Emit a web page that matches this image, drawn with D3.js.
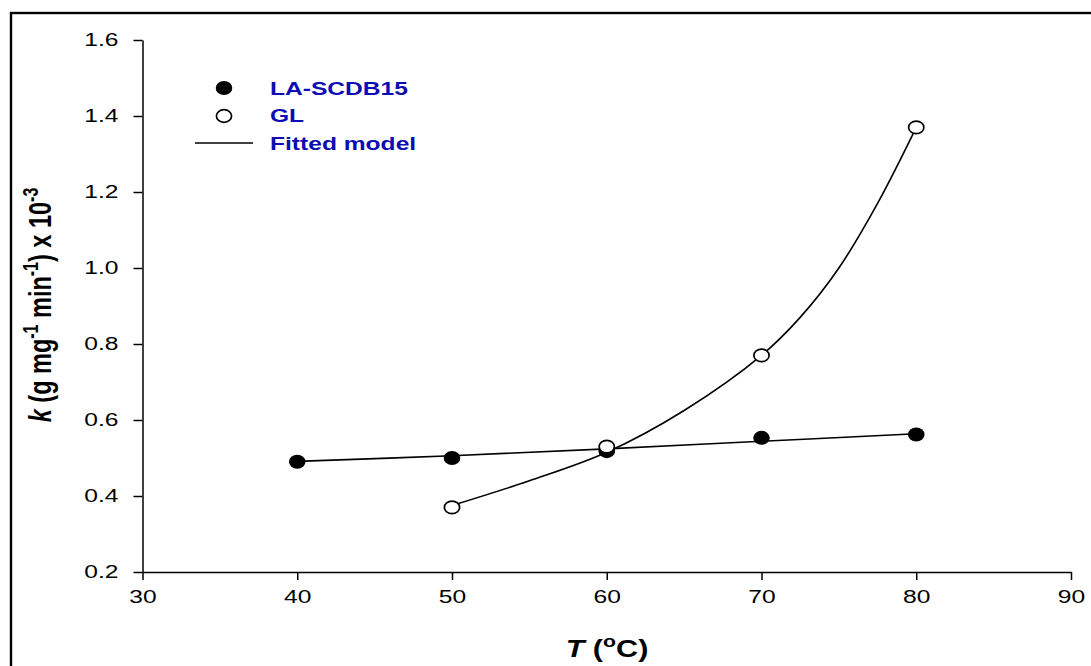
<!DOCTYPE html>
<html>
<head>
<meta charset="utf-8">
<script src="https://cdn.jsdelivr.net/npm/d3@7"></script>
<style>
  html, body { margin: 0; padding: 0; background: #fff; }
  svg { display: block; }
  text { font-family: "Liberation Sans", Arial, sans-serif; }
</style>
</head>
<body>
<svg id="chart" width="1091" height="666"></svg>
<script>
// Rate constant k vs temperature for two adsorbents
const temps = [40, 50, 60, 70, 80];
const laValues = [0.49, 0.50, 0.518, 0.553, 0.562];
const glTemps = [50, 60, 70, 80];
const glValues = [0.37, 0.53, 0.77, 1.37];

// Fitted model curves
const laFitTemps = [40, 50, 60, 70, 80];
const laFitValues = [0.491, 0.506, 0.524, 0.544, 0.564];
const glFitTemps = [50, 55, 60, 65, 70, 72.5, 75, 77.5, 80];
const glFitValues = [0.375, 0.44, 0.515, 0.625, 0.77, 0.87, 1.0, 1.17, 1.37];

const xTicks = [30, 40, 50, 60, 70, 80, 90];
const yTicks = [0.2, 0.4, 0.6, 0.8, 1.0, 1.2, 1.4, 1.6];

const seriesNames = ["LA-SCDB15", "GL", "Fitted model"];

const svg = d3.select("#chart");
const SX = 1.33; // horizontal glyph stretch

const x = d3.scaleLinear().domain([30, 90]).range([142.5, 1071]);
const y = d3.scaleLinear().domain([0.2, 1.6]).range([572, 40]);

// outer frame
svg.append("rect")
  .attr("x", 11).attr("y", 13)
  .attr("width", 1200).attr("height", 800)
  .attr("fill", "none").attr("stroke", "#000").attr("stroke-width", 2.4);

function stretchText(sel) {
  sel.each(function () {
    const t = d3.select(this);
    const tx = +t.attr("x") || 0, ty = +t.attr("y") || 0;
    t.attr("transform", `translate(${tx},${ty}) scale(${SX},1) translate(${-tx},${-ty})`);
  });
}

// X axis
const xAxis = svg.append("g")
  .attr("transform", `translate(0,${y(0.2)})`)
  .call(d3.axisBottom(x).tickValues(xTicks).tickSize(8).tickSizeOuter(0).tickPadding(10)
    .tickFormat(d3.format("d")));
xAxis.select(".domain").attr("stroke-width", 1.5);
xAxis.selectAll(".tick line").attr("stroke-width", 1.5);
xAxis.selectAll(".tick text")
  .attr("font-size", 18.5).attr("fill", "#000")
  .attr("font-family", "Liberation Sans, Arial, sans-serif")
  .attr("dy", "0.72em")
  .attr("transform", `scale(${SX},1)`);

// Y axis
const yAxis = svg.append("g")
  .attr("transform", `translate(${x(30)},0)`)
  .call(d3.axisLeft(y).tickValues(yTicks).tickSize(9).tickSizeOuter(0).tickPadding(14)
    .tickFormat(d3.format(".1f")));
yAxis.select(".domain").attr("stroke-width", 1.5);
yAxis.selectAll(".tick line").attr("stroke-width", 1.5);
yAxis.selectAll(".tick text")
  .attr("font-size", 18.5).attr("fill", "#000")
  .attr("font-family", "Liberation Sans, Arial, sans-serif")
  .attr("transform", `scale(${SX},1)`)
  .attr("x", -24 / SX);

// Fitted lines
const line = d3.line().x(d => x(d[0])).y(d => y(d[1])).curve(d3.curveCatmullRom.alpha(0.5));
svg.append("path")
  .datum(d3.zip(laFitTemps, laFitValues))
  .attr("d", line).attr("fill", "none").attr("stroke", "#000").attr("stroke-width", 1.6);
svg.append("path")
  .datum(d3.zip(glFitTemps, glFitValues))
  .attr("d", line).attr("fill", "none").attr("stroke", "#000").attr("stroke-width", 1.6);

// Markers
svg.append("g").selectAll("ellipse")
  .data(d3.zip(temps, laValues))
  .join("ellipse")
  .attr("cx", d => x(d[0])).attr("cy", d => y(d[1]))
  .attr("rx", 8.3).attr("ry", 7).attr("fill", "#000");

svg.append("g").selectAll("ellipse")
  .data(d3.zip(glTemps, glValues))
  .join("ellipse")
  .attr("cx", d => x(d[0])).attr("cy", d => y(d[1]))
  .attr("rx", 7.6).attr("ry", 6.3)
  .attr("fill", "#fff").attr("stroke", "#000").attr("stroke-width", 1.7);

// Legend
const legend = svg.append("g");
const legendColor = "#0c0cb4";
legend.append("ellipse").attr("cx", 224).attr("cy", 88).attr("rx", 8.3).attr("ry", 7).attr("fill", "#000");
legend.append("ellipse").attr("cx", 224).attr("cy", 116).attr("rx", 7.6).attr("ry", 6.3)
  .attr("fill", "#fff").attr("stroke", "#000").attr("stroke-width", 1.7);
legend.append("line").attr("x1", 195).attr("x2", 253).attr("y1", 143).attr("y2", 143)
  .attr("stroke", "#000").attr("stroke-width", 1.6);
legend.selectAll("text")
  .data(seriesNames)
  .join("text")
  .attr("x", 270).attr("y", (d, i) => 95 + i * 27.5)
  .attr("font-size", 18.5).attr("font-weight", "bold").attr("fill", legendColor)
  .text(d => d)
  .call(stretchText);

// X axis title: T (°C)
const xt = svg.append("text")
  .attr("x", 607).attr("y", 657)
  .attr("text-anchor", "middle")
  .attr("font-size", 23).attr("font-weight", "bold");
xt.append("tspan").attr("font-style", "italic").text("T");
xt.append("tspan").text(" (");
xt.append("tspan").attr("font-size", 16).attr("dy", -10).text("o");
xt.append("tspan").attr("dy", 10).text("C)");
stretchText(xt);

// Y axis title: k (g mg-1 min-1) x 10-3
const yt = svg.append("text")
  .attr("text-anchor", "middle")
  .attr("font-size", 23.5).attr("font-weight", "bold")
  .attr("transform", `translate(51,305) scale(${SX},1) rotate(-90)`);
yt.append("tspan").attr("font-style", "italic").text("k");
yt.append("tspan").text(" (g mg");
yt.append("tspan").attr("font-size", 16).attr("dy", -10).text("-1");
yt.append("tspan").attr("dy", 10).text(" min");
yt.append("tspan").attr("font-size", 16).attr("dy", -10).text("-1");
yt.append("tspan").attr("dy", 10).text(") x 10");
yt.append("tspan").attr("font-size", 16).attr("dy", -10).text("-3");
</script>
</body>
</html>
